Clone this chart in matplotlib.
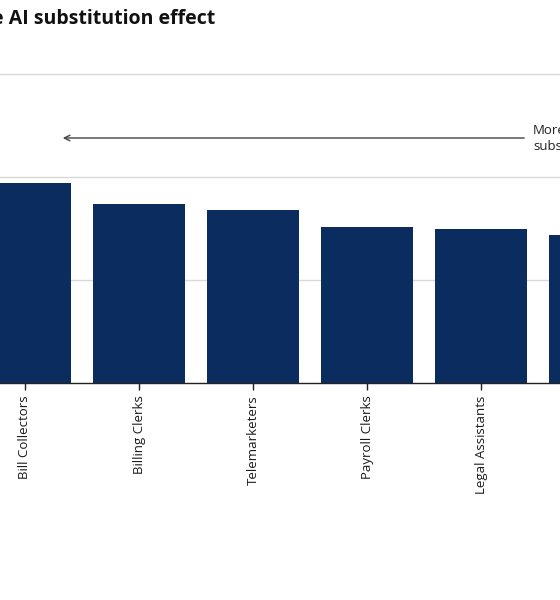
import matplotlib
matplotlib.use("Agg")
import matplotlib.pyplot as plt

plt.rcParams['font.family'] = ['Open Sans', 'DejaVu Sans']

jobs = ['Bill Collectors', 'Billing Clerks', 'Telemarketers', 'Payroll Clerks',
        'Legal Assistants', 'Proofreaders']
scores = [1.94, 1.74, 1.68, 1.51, 1.50, 1.44]
grid_vals = [1, 2, 3]

navy = '#0b2c5f'

fig = plt.figure(figsize=(5.6, 6), dpi=100)
# chart is a crop of a wider figure: axes run past both edges
ax = fig.add_axes([0, (600 - 383) / 600, 1, 3.2 * 103 / 600])

x = list(range(len(jobs)))
ax.bar(x, scores, width=0.8, color=navy, zorder=2)

ax.set_xticks(x)
ax.set_xticklabels(jobs, rotation=90, fontsize=9.5, color='#1a1a1a')
ax.tick_params(axis='x', length=5, width=1, color='#222222', pad=4)

# limits after the ticks, set_xticks would widen them
ax.set_xlim(-25 / 114, (560 - 25) / 114)
ax.set_ylim(0, 3.2)

ax.set_yticks(grid_vals)
ax.yaxis.grid(True, color='#d9d9d9', linewidth=1, zorder=0)
ax.tick_params(axis='y', left=False, labelleft=False)

for s in ['top', 'left', 'right']:
    ax.spines[s].set_visible(False)
ax.spines['bottom'].set_color('#222222')
ax.spines['bottom'].set_linewidth(1)

# arrow annotation
y_arr = (383 - 138) / 103
ax.annotate('', xy=((60 - 25) / 114, y_arr), xytext=((527 - 25) / 114, y_arr),
            arrowprops=dict(arrowstyle='->', color='#444444', lw=1),
            annotation_clip=False)
ax.text((533 - 25) / 114, y_arr, 'More\nsubstitution', fontsize=9.5,
        color='#222222', va='center', ha='left', linespacing=1.3,
        clip_on=False)

fig.text(215 / 560, (600 - 19) / 600, 'The AI substitution effect',
         ha='right', va='center', fontsize=14, fontweight='bold',
         color='#111111')

fig.savefig('out.png', dpi=100)
